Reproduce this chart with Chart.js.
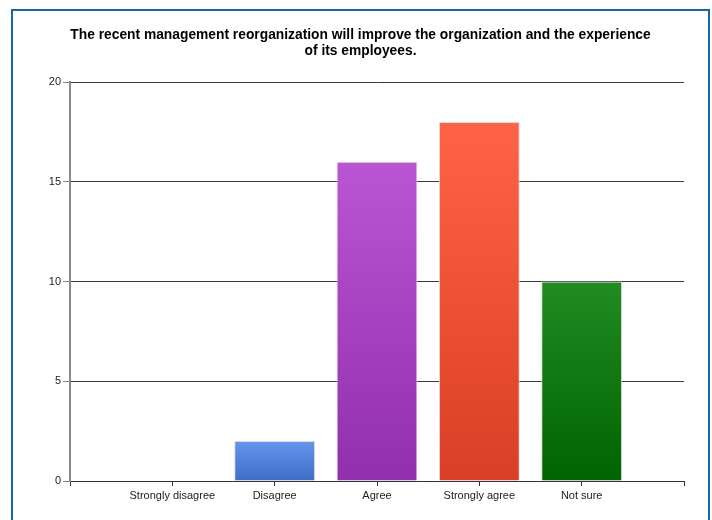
<!DOCTYPE html>
<html>
  <head>
    <meta charset="utf-8"/>
    <style type="text/css">
      body {
        margin: 0px;
        padding: 0px;
        background: #ffffff;
        overflow: hidden;
      }
      #frame {
        position: absolute;
        left: 11px;
        top: 9px;
        width: 695px;
        height: 520px;
        border: 2px solid #1469a3;
        border-bottom: none;
      }
      #chart {
        display: block;
      }
    </style>
  </head>
  <body>
    <div id="frame">
      <canvas id="chart" width="695" height="509"></canvas>
    </div>
    <script src="https://cdn.jsdelivr.net/npm/chart.js@4/dist/chart.umd.min.js"></script>
    <script>
      var titleLines = [
        'The recent management reorganization will improve the organization and the experience',
        'of its employees.'
      ];
      var answers = ['Strongly disagree', 'Disagree', 'Agree', 'Strongly agree', 'Not sure'];
      var counts = [0, 2, 16, 18, 10];
      var yTicks = [0, 5, 10, 15, 20];

      // top / bottom shade for each bar
      var shades = [
        ['#6495ed', '#3f6ec6'],
        ['#6495ed', '#3f6ec6'],
        ['#ba55d3', '#922fae'],
        ['#ff6347', '#d93f24'],
        ['#228b22', '#006400']
      ];

      // empty slot on each side of the answers
      var labels = [''].concat(answers, ['']);
      var values = [null].concat(counts, [null]);

      function barFill(ctx) {
        var i = ctx.dataIndex - 1;
        var pair = shades[i] || shades[0];
        var chart = ctx.chart;
        if (!chart.chartArea || ctx.raw == null) return pair[0];
        var y = chart.scales.y;
        var top = y.getPixelForValue(ctx.raw);
        var bottom = y.getPixelForValue(0);
        if (bottom - top < 1) return pair[0];
        var g = chart.ctx.createLinearGradient(0, top, 0, bottom);
        g.addColorStop(0, pair[0]);
        g.addColorStop(1, pair[1]);
        return g;
      }

      var font = 'Arial, "Liberation Sans", sans-serif';

      new Chart(document.getElementById('chart'), {
        type: 'bar',
        data: {
          labels: labels,
          datasets: [{
            data: values,
            backgroundColor: barFill,
            borderColor: '#dcdcdc',
            borderWidth: 1,
            borderSkipped: 'start',
            categoryPercentage: 1,
            barPercentage: 0.79
          }]
        },
        options: {
          responsive: false,
          animation: false,
          devicePixelRatio: 1,
          layout: {
            padding: {left: 12, right: 12, top: 0, bottom: 0}
          },
          plugins: {
            legend: {display: false},
            tooltip: {enabled: false},
            title: {
              display: true,
              text: titleLines,
              color: '#000000',
              font: {family: font, size: 13.8, weight: 'bold', lineHeight: 1.16},
              padding: {top: 16, bottom: 23}
            }
          },
          scales: {
            x: {
              offset: false,
              grid: {
                offset: false,
                drawOnChartArea: false,
                drawTicks: true,
                tickLength: 5,
                tickColor: '#333333'
              },
              border: {color: '#333333', width: 1},
              ticks: {
                color: '#222222',
                padding: 3,
                maxRotation: 0,
                autoSkip: false,
                font: {family: font, size: 11}
              },
              afterFit: function (scale) { scale.height = 39; }
            },
            y: {
              min: 0,
              max: 20,
              afterBuildTicks: function (scale) {
                scale.ticks = yTicks.map(function (v) { return {value: v}; });
              },
              grid: {
                color: '#3a3a3a',
                tickLength: 7,
                tickColor: '#888888'
              },
              border: {color: '#8a8a8a', width: 2},
              ticks: {
                color: '#222222',
                padding: 2,
                font: {family: font, size: 11}
              },
              afterFit: function (scale) { scale.width = 45; }
            },
            // empty strip on the right so the plot stops short of the frame
            gap: {
              position: 'right',
              grid: {display: false},
              border: {display: false},
              ticks: {display: false},
              afterFit: function (scale) { scale.width = 12; }
            }
          }
        }
      });
    </script>
  </body>
</html>
